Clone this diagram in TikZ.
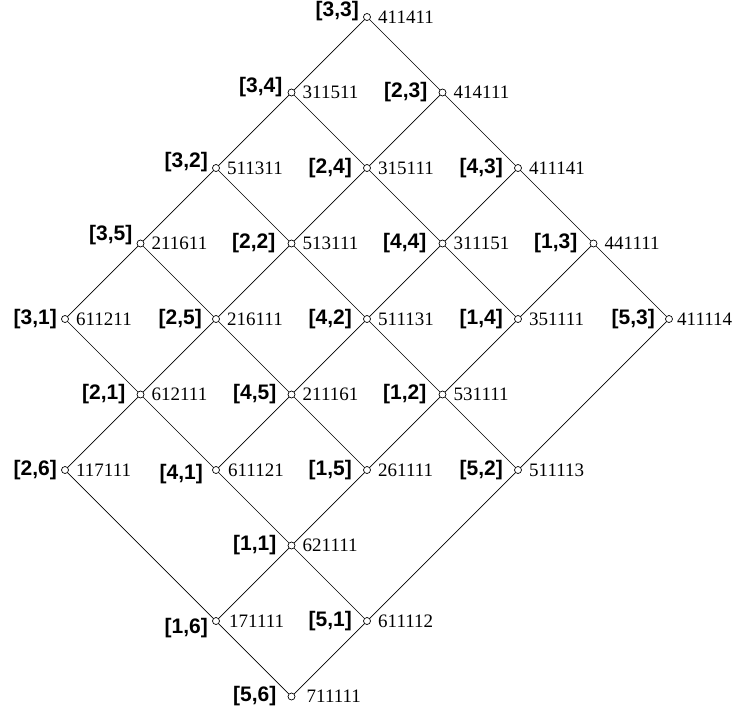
\documentclass[tikz,border=0pt]{standalone}
\usepackage{fontspec}
\setmainfont{Liberation Serif}
\newfontfamily\labfont{Liberation Sans}
\newcommand\V[8]{%
  \node[v] (n#1) at ({65+75.5*#2},{17+75.5*#3}) {};
  \node[lab] (l#1) at ({65+75.5*#2-#6},{17+75.5*#3+#7}) {#4};
  \node[num] (t#1) at ({65+75.5*#2+#8},{17+75.5*#3}) {#5};
}
\begin{document}
\begin{tikzpicture}[x=1pt,y=-1pt,
  v/.style={circle,draw,fill=white,inner sep=0pt,minimum size=7pt,line width=0.7pt},
  num/.style={anchor=west,inner sep=0pt,font=\fontsize{19}{19}\selectfont},
  lab/.style={anchor=east,inner sep=0pt,font=\labfont\bfseries\fontsize{21}{21}\selectfont},
  edge/.style={line width=0.7pt}]
\useasboundingbox (0,0) rectangle (736,715);
\V{33}{4}{0}{[3,3]}{411411}{8}{-6}{11}
\V{34}{3}{1}{[3,4]}{311511}{9}{-5}{11}
\V{23}{5}{1}{[2,3]}{414111}{15}{0}{11}
\V{32}{2}{2}{[3,2]}{511311}{8}{-6}{11}
\V{24}{4}{2}{[2,4]}{315111}{15}{0}{11}
\V{43}{6}{2}{[4,3]}{411141}{15}{0}{11}
\V{35}{1}{3}{[3,5]}{211611}{8}{-8}{11}
\V{22}{3}{3}{[2,2]}{513111}{16}{0}{11}
\V{44}{5}{3}{[4,4]}{311151}{16}{0}{11}
\V{13}{7}{3}{[1,3]}{441111}{16}{0}{11}
\V{31}{0}{4}{[3,1]}{611211}{8}{0}{11}
\V{25}{2}{4}{[2,5]}{216111}{14}{0}{11}
\V{42}{4}{4}{[4,2]}{511131}{15}{0}{11}
\V{14}{6}{4}{[1,4]}{351111}{15}{0}{11}
\V{53}{8}{4}{[5,3]}{411114}{14}{0}{8}
\V{21}{1}{5}{[2,1]}{612111}{15}{0}{11}
\V{45}{3}{5}{[4,5]}{211161}{15}{0}{11}
\V{12}{5}{5}{[1,2]}{531111}{16}{0}{11}
\V{26}{0}{6}{[2,6]}{117111}{8}{0}{11}
\V{41}{2}{6}{[4,1]}{611121}{13}{4}{12}
\V{15}{4}{6}{[1,5]}{261111}{15}{0}{11}
\V{52}{6}{6}{[5,2]}{511113}{15}{0}{11}
\V{11}{3}{7}{[1,1]}{621111}{15}{0}{11}
\V{16}{2}{8}{[1,6]}{171111}{8}{7}{13}
\V{51}{4}{8}{[5,1]}{611112}{15}{0}{11}
\V{56}{3}{9}{[5,6]}{711111}{15}{0}{15}
\draw[edge] (n33) -- (n34); \draw[edge] (n33) -- (n23);
\draw[edge] (n34) -- (n32); \draw[edge] (n34) -- (n24);
\draw[edge] (n23) -- (n24); \draw[edge] (n23) -- (n43);
\draw[edge] (n32) -- (n35); \draw[edge] (n32) -- (n22);
\draw[edge] (n24) -- (n22); \draw[edge] (n24) -- (n44);
\draw[edge] (n43) -- (n44); \draw[edge] (n43) -- (n13);
\draw[edge] (n35) -- (n31); \draw[edge] (n35) -- (n25);
\draw[edge] (n22) -- (n25); \draw[edge] (n22) -- (n42);
\draw[edge] (n44) -- (n42); \draw[edge] (n44) -- (n14);
\draw[edge] (n13) -- (n14); \draw[edge] (n13) -- (n53);
\draw[edge] (n31) -- (n21);
\draw[edge] (n25) -- (n21); \draw[edge] (n25) -- (n45);
\draw[edge] (n42) -- (n45); \draw[edge] (n42) -- (n12);
\draw[edge] (n14) -- (n12);
\draw[edge] (n53) -- (n52);
\draw[edge] (n21) -- (n26); \draw[edge] (n21) -- (n41);
\draw[edge] (n45) -- (n41); \draw[edge] (n45) -- (n15);
\draw[edge] (n12) -- (n15); \draw[edge] (n12) -- (n52);
\draw[edge] (n26) -- (n16);
\draw[edge] (n41) -- (n11);
\draw[edge] (n15) -- (n11);
\draw[edge] (n52) -- (n51);
\draw[edge] (n11) -- (n16); \draw[edge] (n11) -- (n51);
\draw[edge] (n16) -- (n56); \draw[edge] (n51) -- (n56);
\end{tikzpicture}
\end{document}
